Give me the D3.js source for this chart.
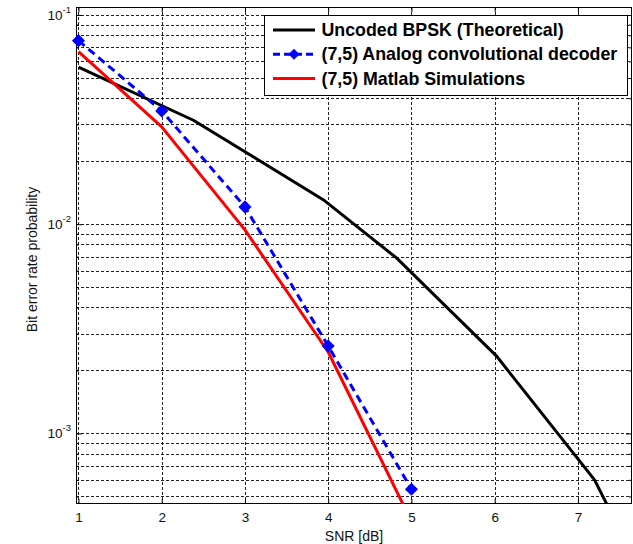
<!DOCTYPE html>
<html><head><meta charset="utf-8">
<script src="https://cdn.jsdelivr.net/npm/d3@7"></script>
<style>body{margin:0;background:#fff} svg{display:block}</style>
</head><body><svg id="c" width="633" height="544"></svg>
<script>
// ---- data ----
const snrTheory = [1, 2.38, 3.94, 4.82, 6.02, 7.2, 7.6];
const berTheory = [0.0564, 0.0314, 0.0131, 0.0069, 0.00235, 0.0006, 0.00029];
const snrAnalog = [1, 2, 3, 4, 5];
const berAnalog = [0.0754, 0.0348, 0.0121, 0.00262, 0.000541];
const snrSim = [1, 2, 3, 4, 5];
const berSim = [0.0668, 0.0292, 0.0094, 0.00245, 0.00038];
const xTicks = [1, 2, 3, 4, 5, 6, 7];
const yMajorTicks = [1e-3, 1e-2, 1e-1];
const yTickExps = ["-3", "-2", "-1"];
const legendLabels = ["Uncoded BPSK (Theoretical)", "(7,5) Analog convolutional decoder", "(7,5) Matlab Simulations"];
const xLabel = "SNR [dB]";
const yLabel = "Bit error rate probability";

// ---- layout ----
const L = 76, R = 632, T = 7, B = 504;
const svg = d3.select("#c");
const x = d3.scaleLinear().domain([0.97, 7.65]).range([L, R]);
const y = d3.scaleLog().domain([0.1092, 0.00046]).range([T, B]);
const FONT = "'Liberation Sans', Arial, sans-serif";

svg.append("rect").attr("width", 633).attr("height", 544).attr("fill", "#fff");
svg.append("defs").append("clipPath").attr("id", "clip")
  .append("rect").attr("x", L).attr("y", T).attr("width", R - L).attr("height", B - T);

// grid values
const yAll = [];
for (let e = -4; e <= -1; e++) for (let k = 1; k <= 9; k++) {
  const v = k * Math.pow(10, e);
  if (v <= 0.1092 && v >= 0.00046) yAll.push(v);
}
const grid = svg.append("g").attr("stroke", "#222").attr("stroke-width", 1)
  .attr("stroke-dasharray", "3,2").attr("shape-rendering", "crispEdges");
grid.selectAll("line.gx").data(xTicks).join("line").attr("class", "gx")
  .attr("x1", d => Math.round(x(d)) + 0.5).attr("x2", d => Math.round(x(d)) + 0.5)
  .attr("y1", T).attr("y2", B);
grid.selectAll("line.gy").data(yAll).join("line").attr("class", "gy")
  .attr("x1", L).attr("x2", R)
  .attr("y1", d => Math.round(y(d)) + 0.5).attr("y2", d => Math.round(y(d)) + 0.5);

// axes with inward ticks
const axB = d3.axisBottom(x).tickValues(xTicks).tickFormat(d3.format("d"))
  .tickSizeInner(-5).tickSizeOuter(0).tickPadding(8);
const gB = svg.append("g").attr("transform", `translate(0,${B})`).call(axB);
const axT = d3.axisTop(x).tickValues(xTicks).tickSizeInner(-5).tickSizeOuter(0).tickFormat("");
svg.append("g").attr("transform", `translate(0,${T})`).call(axT);
const minorY = yAll.filter(v => !yMajorTicks.includes(v));
function yAxes(axisFn, xpos) {
  svg.append("g").attr("transform", `translate(${xpos},0)`)
    .call(axisFn(y).tickValues(yMajorTicks).tickSizeInner(-6).tickSizeOuter(0).tickFormat(""));
  svg.append("g").attr("transform", `translate(${xpos},0)`)
    .call(axisFn(y).tickValues(minorY).tickSizeInner(-3).tickSizeOuter(0).tickFormat(""));
}
yAxes(d3.axisLeft, L);
yAxes(d3.axisRight, R);
svg.selectAll(".domain").remove();
svg.selectAll(".tick line").attr("stroke", "#000").attr("stroke-width", 1);
gB.selectAll(".tick text").attr("font-family", FONT).attr("font-size", 13.5).attr("fill", "#111");

// box
svg.append("rect").attr("x", L + 0.5).attr("y", T + 0.5).attr("width", R - L - 1).attr("height", B - T - 1)
  .attr("fill", "none").attr("stroke", "#000").attr("stroke-width", 1);

// y tick labels
const yl = svg.append("g").attr("font-family", FONT).attr("fill", "#111");
yMajorTicks.forEach((v, i) => {
  const t = yl.append("text").attr("x", L - 5).attr("y", y(v) + 5).attr("text-anchor", "end");
  t.append("tspan").attr("font-size", 13.5).text("10");
  t.append("tspan").attr("font-size", 9.5).attr("dy", -7).text(yTickExps[i]);
});

// axis titles
svg.append("text").attr("x", (L + R) / 2).attr("y", 541).attr("text-anchor", "middle")
  .attr("font-family", FONT).attr("font-size", 14).attr("fill", "#111").text(xLabel);
svg.append("text").attr("transform", `translate(37,${(T + B) / 2 + 4}) rotate(-90)`)
  .attr("text-anchor", "middle").attr("font-family", FONT).attr("font-size", 14).attr("fill", "#111").text(yLabel);

// lines
const line = d3.line().x(d => x(d[0])).y(d => y(d[1]));
const plot = svg.append("g").attr("clip-path", "url(#clip)");
const series = [
  { xs: snrTheory, ys: berTheory, color: "#000", dash: null, marker: false },
  { xs: snrAnalog, ys: berAnalog, color: "#0000ff", dash: "8,5", marker: true },
  { xs: snrSim, ys: berSim, color: "#ff0000", dash: null, marker: false }
];
const drawOrder = [0, 2, 1];
drawOrder.forEach(i => {
  const s = series[i];
  const pts = s.xs.map((v, j) => [v, s.ys[j]]);
  plot.append("path").attr("d", line(pts)).attr("fill", "none").attr("stroke", s.color)
    .attr("stroke-width", 3).attr("stroke-dasharray", s.dash).attr("stroke-linejoin", "round");
});
const diamond = d3.symbol().type(d3.symbolSquare).size(60);
const s1 = series[1];
svg.append("g").selectAll("path").data(s1.xs.map((v, j) => [v, s1.ys[j]])).join("path")
  .attr("d", diamond).attr("fill", s1.color).attr("stroke", s1.color).attr("stroke-width", 1.5)
  .attr("transform", d => `translate(${x(d[0])},${y(d[1])}) rotate(45)`);

// legend
const lg = svg.append("g");
lg.append("rect").attr("x", 264.5).attr("y", 15.5).attr("width", 363).attr("height", 80)
  .attr("fill", "#fff").attr("stroke", "#000").attr("stroke-width", 1);
legendLabels.forEach((lab, i) => {
  const cy = 30 + i * 24.3;
  const s = series[i];
  lg.append("line").attr("x1", 273).attr("x2", 315).attr("y1", cy).attr("y2", cy)
    .attr("stroke", s.color).attr("stroke-width", 3).attr("stroke-dasharray", s.dash ? "7,4" : null);
  if (s.marker) lg.append("path").attr("d", diamond).attr("fill", s.color)
    .attr("transform", `translate(294,${cy}) rotate(45)`);
  lg.append("text").attr("x", 321.5).attr("y", cy + 6).attr("font-family", FONT)
    .attr("font-size", 17.8).attr("font-weight", "bold").attr("fill", "#000").text(lab);
});
</script></body></html>
